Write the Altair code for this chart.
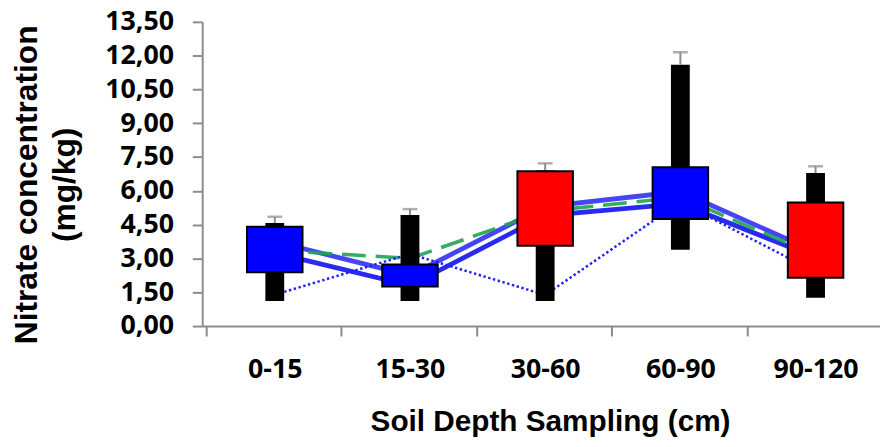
import json
import altair as alt
import pandas as pd

# ---------------- data ----------------
categories = ["0-15", "15-30", "30-60", "60-90", "90-120"]
position = [1, 2, 3, 4, 5]

# up/down boxes
box_low = [2.39, 1.75, 3.56, 4.75, 2.14]
box_high = [4.41, 2.73, 6.87, 7.05, 5.48]
direction = ["rise", "rise", "fall", "rise", "fall"]

# black high-low bars and grey error caps
range_low = [1.11, 1.11, 1.11, 3.39, 1.26]
range_high = [4.57, 4.93, 6.90, 11.60, 6.79]
err_top = [4.85, 5.19, 7.22, 12.15, 7.09]

# line series
series_upper = [3.75, 2.25, 5.30, 5.97, 3.30]
series_lower = [3.25, 1.80, 4.90, 5.43, 3.05]
series_dashed = [3.37, 3.00, 5.10, 5.72, 3.15]
series_dotted = [1.39, 3.20, 1.38, 5.50, 2.40]

y_ticks = [0, 1.5, 3, 4.5, 6, 7.5, 9, 10.5, 12, 13.5]

df = pd.DataFrame({
    "pos": position,
    "cat": categories,
    "box_low": box_low,
    "box_high": box_high,
    "direction": direction,
    "range_low": range_low,
    "range_high": range_high,
    "err_top": err_top,
    "upper": series_upper,
    "lower": series_lower,
    "dashed": series_dashed,
    "dotted": series_dotted,
})

cat_js = json.dumps(categories)
AXIS_GREY = "#8c8c8c"

x_axis = alt.Axis(
    values=position,
    labelExpr=f"{cat_js}[datum.value - 1]",
    tickOffset=-69.2,
    labelOffset=69.2,
    labelFlush=False,
    labelOverlap=False,
    grid=False,
    tickSize=10,
    tickWidth=2,
    tickColor=AXIS_GREY,
    domainColor=AXIS_GREY,
    domainWidth=2,
    labelFont="Open Sans",
    labelFontWeight="bold",
    labelFontSize=27,
    labelColor="black",
    labelPadding=21,
    labelBaseline="top",
    title="Soil Depth Sampling (cm)",
    titleFont="Liberation Sans",
    titleFontWeight="bold",
    titleFontSize=30,
    titleColor="black",
    titleX=351,
    titleY=105,
    titleAlign="center",
    titleBaseline="alphabetic",
)

y_axis = alt.Axis(
    values=y_ticks,
    labelExpr="replace(format(datum.value, '.2f'), '.', ',')",
    grid=False,
    tickSize=10,
    tickWidth=2,
    tickColor=AXIS_GREY,
    domainColor=AXIS_GREY,
    domainWidth=2,
    labelFont="Open Sans",
    labelFontWeight="bold",
    labelFontSize=27,
    labelColor="black",
    labelPadding=19,
    title=["Nitrate concentration", "(mg/kg)"],
    titleFont="Liberation Sans",
    titleFontWeight="bold",
    titleFontSize=32,
    titleColor="black",
    titleLineHeight=38,
    titleAngle=270,
    titleX=-167,
    titleY=164,
    titleAlign="center",
    titleBaseline="alphabetic",
)

x_scale = alt.Scale(domain=[0.5, 5.44], nice=False, zero=False)
y_scale = alt.Scale(domain=[0, 13.5], nice=False, zero=True)

X = alt.X("pos:Q", scale=x_scale, axis=x_axis)


def Y(field):
    return alt.Y(f"{field}:Q", scale=y_scale, axis=y_axis)


base = alt.Chart(df)

line_upper = base.mark_line(color="#2424f4", strokeWidth=4.8, opacity=0.85).encode(x=X, y=Y("upper"))
line_lower = base.mark_line(color="#1212f0", strokeWidth=4.8, opacity=0.9).encode(x=X, y=Y("lower"))
line_dashed = base.mark_line(color="#1fa352", strokeWidth=3.6, strokeDash=[24, 10], opacity=0.9).encode(x=X, y=Y("dashed"))
line_dotted = base.mark_line(color="#2020ff", strokeWidth=2.5, strokeDash=[2.4, 2.6]).encode(x=X, y=Y("dotted"))

hl_bars = base.mark_bar(size=19, color="black").encode(x=X, y=Y("range_low"), y2="range_high:Q")
stems = base.mark_rule(color=AXIS_GREY, strokeWidth=2).encode(x=X, y=Y("range_high"), y2="err_top:Q")
caps = base.mark_tick(orient="horizontal", size=15, thickness=2.5, color=AXIS_GREY).encode(x=X, y=Y("err_top"))

boxes = base.mark_bar(size=56, stroke="black", strokeWidth=2).encode(
    x=X,
    y=Y("box_low"),
    y2="box_high:Q",
    color=alt.Color("direction:N",
                    scale=alt.Scale(domain=["rise", "fall"], range=["#0000ff", "#ff0000"]),
                    legend=None),
)

chart = alt.layer(
    line_upper, line_lower, line_dashed, line_dotted, hl_bars, stems, caps, boxes
).properties(
    width=684,
    height=307,
    autosize=alt.AutoSizeParams(type="none"),
    padding={"left": 196, "top": 12, "right": 0, "bottom": 112},
    background="white",
).configure_view(stroke=None)

chart.save("out.html", embed_options={"renderer": "svg", "actions": False})
